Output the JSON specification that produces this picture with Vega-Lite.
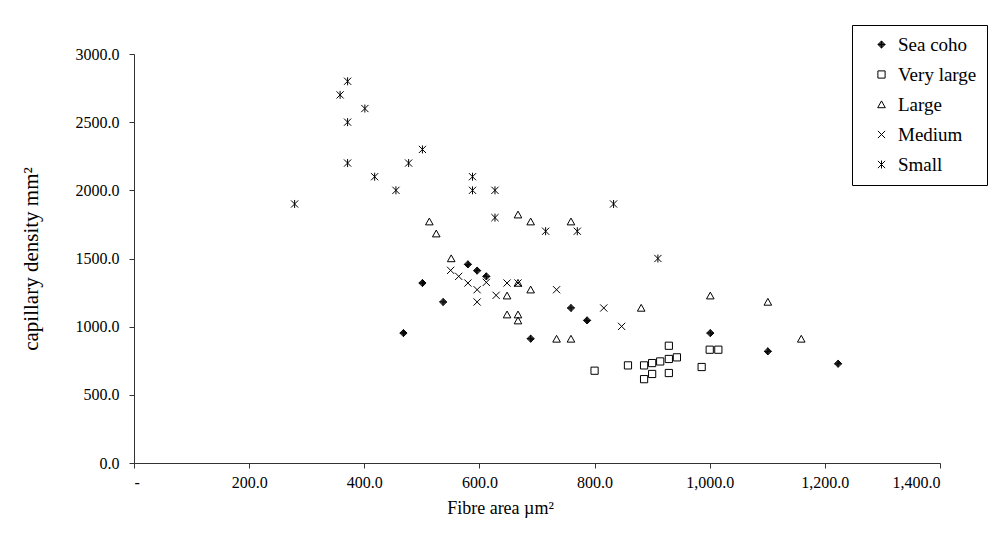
{
  "$schema": "https://vega.github.io/schema/vega-lite/v6.json",
  "width": 806,
  "height": 409,
  "autosize": "none",
  "padding": {"left": 134, "top": 54, "right": 58, "bottom": 96},
  "background": "white",
  "config": {
    "view": {"stroke": null},
    "font": "Liberation Serif",
    "legend": {"symbolStrokeColor": "black", "symbolStrokeWidth": 1},
    "axis": {
      "grid": false,
      "domainColor": "#333333",
      "tickColor": "#333333",
      "tickSize": 5,
      "labelColor": "black",
      "labelFont": "Liberation Serif",
      "labelFontSize": 16,
      "titleFont": "Liberation Serif",
      "titleFontSize": 16,
      "titleFontWeight": "normal",
      "titleColor": "black"
    }
  },
  "data": {
    "values": [
      {"group": "Sea coho", "area": 468, "density": 953},
      {"group": "Sea coho", "area": 501, "density": 1320},
      {"group": "Sea coho", "area": 537, "density": 1181},
      {"group": "Sea coho", "area": 580, "density": 1457},
      {"group": "Sea coho", "area": 596, "density": 1411},
      {"group": "Sea coho", "area": 612, "density": 1369},
      {"group": "Sea coho", "area": 689, "density": 912},
      {"group": "Sea coho", "area": 759, "density": 1137},
      {"group": "Sea coho", "area": 787, "density": 1046},
      {"group": "Sea coho", "area": 1001, "density": 953},
      {"group": "Sea coho", "area": 1101, "density": 819},
      {"group": "Sea coho", "area": 1223, "density": 728},
      {"group": "Very large", "area": 800, "density": 677},
      {"group": "Very large", "area": 858, "density": 716},
      {"group": "Very large", "area": 886, "density": 716},
      {"group": "Very large", "area": 886, "density": 615},
      {"group": "Very large", "area": 900, "density": 733},
      {"group": "Very large", "area": 900, "density": 653},
      {"group": "Very large", "area": 914, "density": 745},
      {"group": "Very large", "area": 929, "density": 860},
      {"group": "Very large", "area": 929, "density": 763},
      {"group": "Very large", "area": 929, "density": 660},
      {"group": "Very large", "area": 943, "density": 775},
      {"group": "Very large", "area": 986, "density": 704},
      {"group": "Very large", "area": 1000, "density": 831},
      {"group": "Very large", "area": 1015, "density": 831},
      {"group": "Large", "area": 513, "density": 1770},
      {"group": "Large", "area": 525, "density": 1682},
      {"group": "Large", "area": 551, "density": 1500},
      {"group": "Large", "area": 648, "density": 1227},
      {"group": "Large", "area": 648, "density": 1088},
      {"group": "Large", "area": 667, "density": 1088},
      {"group": "Large", "area": 667, "density": 1044},
      {"group": "Large", "area": 667, "density": 1320},
      {"group": "Large", "area": 667, "density": 1821},
      {"group": "Large", "area": 689, "density": 1770},
      {"group": "Large", "area": 689, "density": 1271},
      {"group": "Large", "area": 734, "density": 910},
      {"group": "Large", "area": 759, "density": 910},
      {"group": "Large", "area": 759, "density": 1770},
      {"group": "Large", "area": 881, "density": 1137},
      {"group": "Large", "area": 1001, "density": 1227},
      {"group": "Large", "area": 1101, "density": 1181},
      {"group": "Large", "area": 1159, "density": 910},
      {"group": "Medium", "area": 550, "density": 1413},
      {"group": "Medium", "area": 564, "density": 1369},
      {"group": "Medium", "area": 580, "density": 1320},
      {"group": "Medium", "area": 596, "density": 1271},
      {"group": "Medium", "area": 596, "density": 1181},
      {"group": "Medium", "area": 612, "density": 1325},
      {"group": "Medium", "area": 629, "density": 1230},
      {"group": "Medium", "area": 648, "density": 1320},
      {"group": "Medium", "area": 667, "density": 1320},
      {"group": "Medium", "area": 734, "density": 1271},
      {"group": "Medium", "area": 816, "density": 1137},
      {"group": "Medium", "area": 847, "density": 1002},
      {"group": "Small", "area": 279, "density": 1900},
      {"group": "Small", "area": 358, "density": 2700},
      {"group": "Small", "area": 371, "density": 2800},
      {"group": "Small", "area": 371, "density": 2500},
      {"group": "Small", "area": 371, "density": 2200},
      {"group": "Small", "area": 401, "density": 2600},
      {"group": "Small", "area": 418, "density": 2100},
      {"group": "Small", "area": 455, "density": 2000},
      {"group": "Small", "area": 477, "density": 2200},
      {"group": "Small", "area": 501, "density": 2300},
      {"group": "Small", "area": 588, "density": 2100},
      {"group": "Small", "area": 588, "density": 2000},
      {"group": "Small", "area": 627, "density": 2000},
      {"group": "Small", "area": 627, "density": 1800},
      {"group": "Small", "area": 715, "density": 1700},
      {"group": "Small", "area": 770, "density": 1700},
      {"group": "Small", "area": 833, "density": 1900},
      {"group": "Small", "area": 910, "density": 1500}
    ]
  },
  "mark": {"type": "point", "filled": false, "stroke": "black", "strokeWidth": 1, "size": 64, "opacity": 1},
  "encoding": {
    "x": {
      "field": "area",
      "type": "quantitative",
      "scale": {"domain": [0, 1400], "nice": false, "zero": false},
      "axis": {
        "values": [0, 200, 400, 600, 800, 1000, 1200, 1400],
        "labelExpr": "datum.value == 0 ? '-' : format(datum.value, ',.1f')",
        "title": "Fibre area µm²",
        "titleFontSize": 18,
        "titleX": 366,
        "labelPadding": 6,
        "titlePadding": 9
      }
    },
    "y": {
      "field": "density",
      "type": "quantitative",
      "scale": {"domain": [0, 3000], "nice": false},
      "axis": {
        "values": [0, 500, 1000, 1500, 2000, 2500, 3000],
        "format": ".1f",
        "title": "capillary density mm²",
        "titleFontSize": 21,
        "labelPadding": 10,
        "titlePadding": 34
      }
    },
    "shape": {
      "field": "group",
      "type": "nominal",
      "scale": {
        "domain": ["Sea coho", "Very large", "Large", "Medium", "Small"],
        "range": [
          "M0,-0.9L0.9,0L0,0.9L-0.9,0ZM0,-0.65L0.65,0L0,0.65L-0.65,0ZM0,-0.4L0.4,0L0,0.4L-0.4,0ZM0,-0.15L0.15,0L0,0.15L-0.15,0ZM-0.9,0L0.9,0M0,-0.9L0,0.9",
          "M-0.9,-0.9H0.9V0.9H-0.9Z",
          "M0,-0.9L0.95,0.8L-0.95,0.8Z",
          "M-0.9,-0.9L0.9,0.9M-0.9,0.9L0.9,-0.9",
          "M-0.9,-0.9L0.9,0.9M-0.9,0.9L0.9,-0.9M0,-1L0,1"
        ]
      },
      "legend": {
        "title": null,
        "orient": "none",
        "legendX": 718,
        "legendY": -29,
        "strokeColor": "black",
        "fillColor": "white",
        "padding": 10,
        "symbolOffset": 10,
        "labelOffset": 7,
        "rowPadding": 10,
        "labelFontSize": 19,
        "labelFont": "Liberation Serif",
        "labelColor": "black",
        "symbolSize": 64,
        "symbolStrokeColor": "black",
        "symbolStrokeWidth": 1,
        "symbolFillColor": "transparent"
      }
    }
  }
}
